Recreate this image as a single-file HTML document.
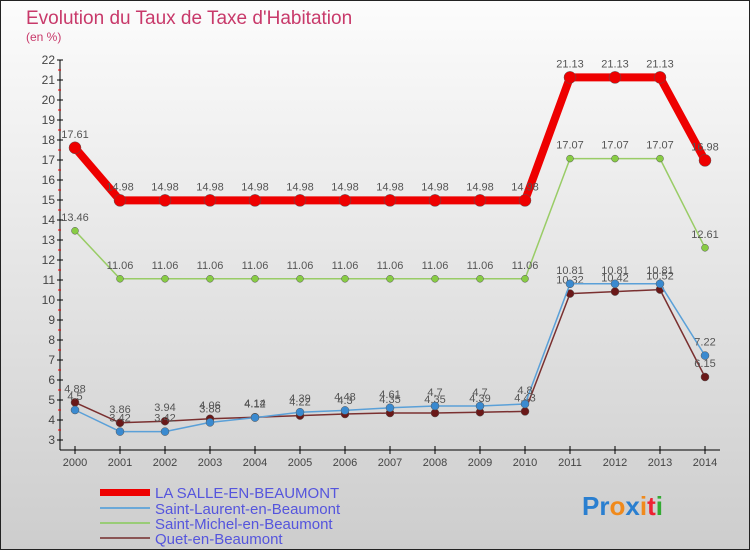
<!DOCTYPE html>
<html><head><meta charset="utf-8"><style>
body{margin:0}
#c{width:750px;height:550px;position:relative;overflow:hidden}
svg{display:block;font-family:"Liberation Sans",sans-serif}
</style></head><body>
<div id="c">
<svg id="s" width="750" height="550" xmlns="http://www.w3.org/2000/svg">
<defs><linearGradient id="bg" x1="0" y1="0" x2="0" y2="1"><stop offset="0" stop-color="#fcfcfc"/><stop offset="1" stop-color="#cdcdcd"/></linearGradient></defs>
<rect x="0.5" y="0.5" width="749" height="549" fill="url(#bg)" stroke="#222"/>
<text x="26" y="24" font-size="19" fill="#c8396a">Evolution du Taux de Taxe d'Habitation</text>
<text x="26" y="41" font-size="12" fill="#c8396a">(en %)</text>
<g id="axes"></g><g id="series"></g>
<g>
<rect x="100" y="489" width="50" height="7" fill="#e00"/>
<text x="155" y="498" font-size="15" fill="#5555dd">LA SALLE-EN-BEAUMONT</text>
<rect x="100" y="507" width="50" height="2" fill="#6aa8d8"/>
<text x="155" y="514" font-size="15" fill="#5555dd">Saint-Laurent-en-Beaumont</text>
<rect x="100" y="522" width="50" height="2" fill="#99cc77"/>
<text x="155" y="529" font-size="15" fill="#5555dd">Saint-Michel-en-Beaumont</text>
<rect x="100" y="537" width="50" height="2" fill="#8a5555"/>
<text x="155" y="544" font-size="15" fill="#5555dd">Quet-en-Beaumont</text>
</g>
<text x="582" y="515" font-size="26" font-weight="bold"><tspan fill="#2a7fd0">Pr</tspan><tspan fill="#f08a1c">o</tspan><tspan fill="#2a7fd0">x</tspan><tspan fill="#f08a1c">i</tspan><tspan fill="#e23">t</tspan><tspan fill="#3a3">i</tspan></text>
</svg></div>
<script>
const years=[2000,2001,2002,2003,2004,2005,2006,2007,2008,2009,2010,2011,2012,2013,2014];
const laSalle=[17.61,14.98,14.98,14.98,14.98,14.98,14.98,14.98,14.98,14.98,14.98,21.13,21.13,21.13,16.98];
const saintMichel=[13.46,11.06,11.06,11.06,11.06,11.06,11.06,11.06,11.06,11.06,11.06,17.07,17.07,17.07,12.61];
const saintLaurent=[4.5,3.42,3.42,3.88,4.12,4.39,4.48,4.61,4.7,4.7,4.8,10.81,10.81,10.81,7.22];
const quet=[4.88,3.86,3.94,4.06,4.14,4.22,4.3,4.35,4.35,4.39,4.43,10.32,10.42,10.52,6.15];
const yTicks=[3,4,5,6,7,8,9,10,11,12,13,14,15,16,17,18,19,20,21,22];
const NS='http://www.w3.org/2000/svg';
const xS=i=>75+i*45, yS=v=>440-(v-3)*20;
function mk(t,a,p){const e=document.createElementNS(NS,t);for(const k in a)e.setAttribute(k,a[k]);p.appendChild(e);return e;}
const ax=document.getElementById('axes'), sg=document.getElementById('series');
const yl=mk('line',{x1:60,y1:yS(22),x2:60,y2:450,stroke:'#000'},ax);


const xl=mk('line',{x1:60,y1:450,x2:720,y2:450,stroke:'#000'},ax);


yTicks.forEach(v=>{
 mk('line',{x1:57,x2:63,y1:yS(v),y2:yS(v),stroke:'#000'},ax);
 if(v<22) mk('line',{x1:58,x2:61,y1:yS(v+0.5),y2:yS(v+0.5),stroke:'#e00'},ax);
 const t=mk('text',{x:55,y:yS(v)+4,'text-anchor':'end','font-size':12,fill:'#444'},ax);t.textContent=v;
 
 
});
years.forEach((y,i)=>{
 mk('line',{x1:xS(i),x2:xS(i),y1:446,y2:454,stroke:'#000'},ax);
 const t=mk('text',{x:xS(i),y:466,'text-anchor':'middle','font-size':11,fill:'#444'},ax);t.textContent=y;
 
 
});
function series(d,color,w,r,name,mcol){
 const g=mk('g',{},sg);
 
 
 mk('polyline',{points:d.map((v,i)=>xS(i)+','+yS(v)).join(' '),fill:'none',stroke:color,'stroke-width':w,'stroke-linejoin':'round'},g);
 d.forEach((v,i)=>{
  const c=mk('circle',{cx:xS(i),cy:yS(v),r:r,fill:mcol,stroke:'#555','stroke-width':0.5},g);
  
  
  const t=mk('text',{x:xS(i),y:yS(v)-10,'text-anchor':'middle','font-size':11,fill:'#555'},g);t.textContent=v;
  
  
 });
}
series(quet,'#7a3030',1.5,4,'series-quet','#6a1818');
series(saintLaurent,'#5aa0d8',1.5,4,'series-saint-laurent','#3a8ad0');
series(saintMichel,'#99cc66',1.5,3.5,'series-saint-michel','#88cc44');
series(laSalle,'#e00',8,6,'series-la-salle','#e00');
</script>
</body></html>
